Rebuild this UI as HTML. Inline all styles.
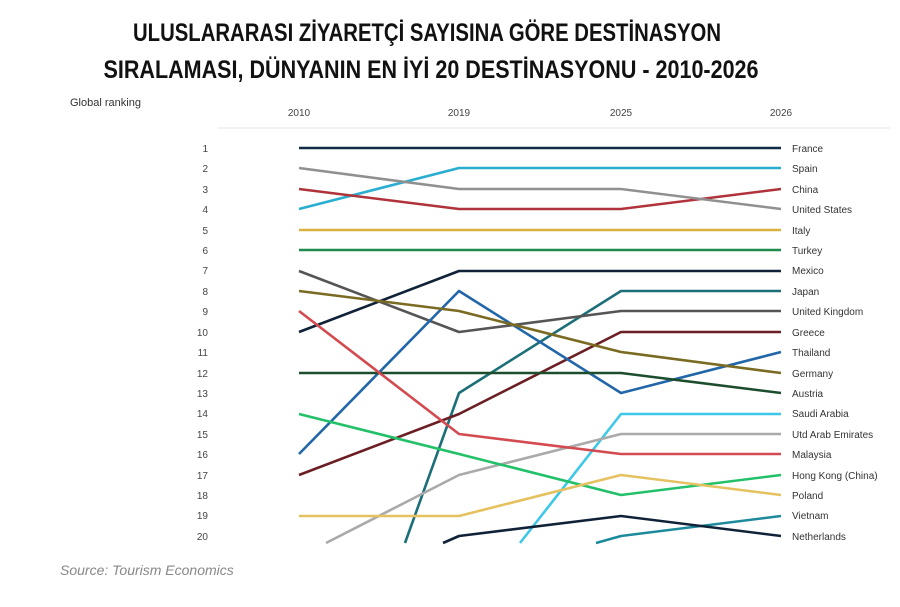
<!DOCTYPE html>
<html><head><meta charset="utf-8"><style>
body{margin:0;background:#fff;width:900px;height:602px;overflow:hidden;font-family:"Liberation Sans",sans-serif}
</style></head><body>
<svg width="900" height="602" xmlns="http://www.w3.org/2000/svg">
<g font-family="'Liberation Sans Narrow','Liberation Sans',sans-serif" font-size="25" font-weight="bold" fill="#111" text-anchor="middle">
<text x="427" y="41" textLength="588" lengthAdjust="spacingAndGlyphs">ULUSLARARASI ZİYARETÇİ SAYISINA GÖRE DESTİNASYON</text>
<text x="431" y="78" textLength="655" lengthAdjust="spacingAndGlyphs">SIRALAMASI, DÜNYANIN EN İYİ 20 DESTİNASYONU - 2010-2026</text>
</g>
<text x="70" y="106" font-size="11" fill="#333">Global ranking</text>
<line x1="218" y1="128" x2="890" y2="128" stroke="#eee" stroke-width="1.5"/>
<g font-size="10" fill="#444" text-anchor="middle">
<text x="299" y="116">2010</text><text x="459" y="116">2019</text><text x="621" y="116">2025</text><text x="781" y="116">2026</text>
</g>
<g font-size="10" fill="#444" text-anchor="end">
<text x="208" y="152">1</text><text x="208" y="172">2</text><text x="208" y="193">3</text><text x="208" y="213">4</text><text x="208" y="234">5</text><text x="208" y="254">6</text><text x="208" y="274">7</text><text x="208" y="295">8</text><text x="208" y="315">9</text><text x="208" y="336">10</text><text x="208" y="356">11</text><text x="208" y="377">12</text><text x="208" y="397">13</text><text x="208" y="417">14</text><text x="208" y="438">15</text><text x="208" y="458">16</text><text x="208" y="479">17</text><text x="208" y="499">18</text><text x="208" y="519">19</text><text x="208" y="540">20</text>
</g>
<g fill="none" stroke-width="2.6" stroke-linejoin="round">
<polyline stroke="#0f2a44" points="299,148 459,148 621,148 781,148"/>
<polyline stroke="#2aaed0" points="299,209 459,168 621,168 781,168"/>
<polyline stroke="#b0323a" points="299,189 459,209 621,209 781,189"/>
<polyline stroke="#909090" points="299,168 459,189 621,189 781,209"/>
<polyline stroke="#d9b23e" points="299,230 781,230"/>
<polyline stroke="#1f8a4c" points="299,250 781,250"/>
<polyline stroke="#0f2238" points="299,332 459,271 781,271"/>
<polyline stroke="#1c6f78" points="405,543 459,393 621,291 781,291"/>
<polyline stroke="#555" points="299,271 459,332 621,311 781,311"/>
<polyline stroke="#6b1f24" points="299,475 459,414 621,332 781,332"/>
<polyline stroke="#2166a8" points="299,454 459,291 621,393 781,352"/>
<polyline stroke="#7a6a22" points="299,291 459,311 621,352 781,373"/>
<polyline stroke="#1c4d2c" points="299,373 621,373 781,393"/>
<polyline stroke="#3ec8e8" points="520,543 621,414 781,414"/>
<polyline stroke="#aaa" points="326,543 459,475 621,434 781,434"/>
<polyline stroke="#d34a50" points="299,311 459,434 621,454 781,454"/>
<polyline stroke="#23c06a" points="299,414 459,454 621,495 781,475"/>
<polyline stroke="#e5c160" points="299,516 459,516 621,475 781,495"/>
<polyline stroke="#1d8a9c" points="596,543 621,536 781,516"/>
<polyline stroke="#0f2238" points="443,543 459,536 621,516 781,536"/>
</g>
<g font-size="10" fill="#333">
<text x="792" y="152">France</text><text x="792" y="172">Spain</text><text x="792" y="193">China</text><text x="792" y="213">United States</text><text x="792" y="234">Italy</text><text x="792" y="254">Turkey</text><text x="792" y="274">Mexico</text><text x="792" y="295">Japan</text><text x="792" y="315">United Kingdom</text><text x="792" y="336">Greece</text><text x="792" y="356">Thailand</text><text x="792" y="377">Germany</text><text x="792" y="397">Austria</text><text x="792" y="417">Saudi Arabia</text><text x="792" y="438">Utd Arab Emirates</text><text x="792" y="458">Malaysia</text><text x="792" y="479">Hong Kong (China)</text><text x="792" y="499">Poland</text><text x="792" y="519">Vietnam</text><text x="792" y="540">Netherlands</text>
</g>
<text x="60" y="575" font-size="14" font-style="italic" fill="#888">Source: Tourism Economics</text>
</svg>
</body></html>
